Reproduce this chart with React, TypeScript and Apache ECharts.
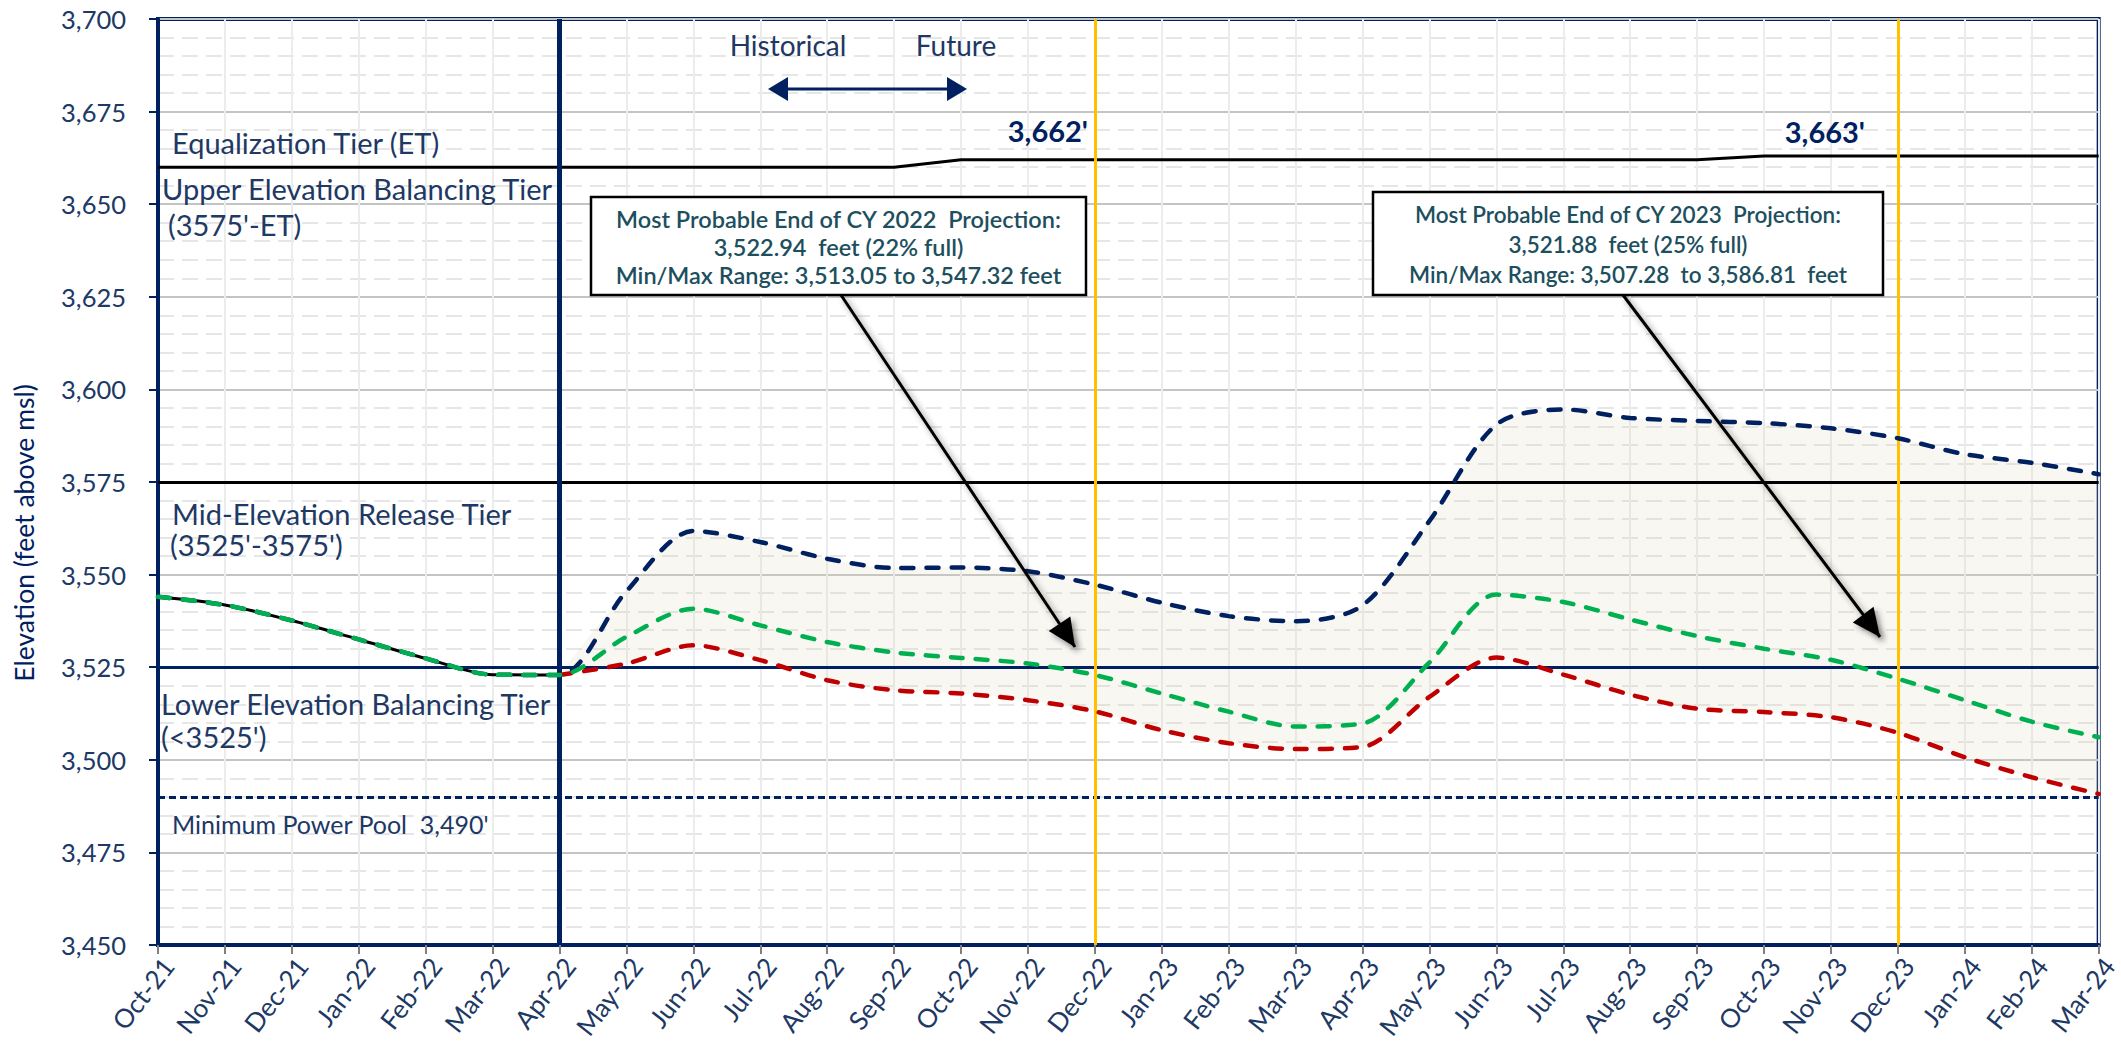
import React, { useEffect, useRef } from "react";
import * as echarts from "echarts";

// ---------- DATA ----------
const months = [
  "Oct-21", "Nov-21", "Dec-21", "Jan-22", "Feb-22", "Mar-22", "Apr-22", "May-22", "Jun-22", "Jul-22",
  "Aug-22", "Sep-22", "Oct-22", "Nov-22", "Dec-22", "Jan-23", "Feb-23", "Mar-23", "Apr-23", "May-23",
  "Jun-23", "Jul-23", "Aug-23", "Sep-23", "Oct-23", "Nov-23", "Dec-23", "Jan-24", "Feb-24", "Mar-24",
];

const historical = [3544.0, 3541.8, 3537.6, 3532.5, 3527.4, 3523.0, 3522.9];

const maxProbable = [
  3544.0, 3541.8, 3537.6, 3532.5, 3527.4, 3523.0, 3522.9, 3545.5, 3561.8, 3558.8,
  3554.3, 3551.8, 3551.9, 3550.9, 3547.3, 3542.4, 3538.8, 3537.4, 3541.7, 3564.5,
  3590.5, 3594.6, 3592.3, 3591.5, 3590.9, 3589.5, 3586.8, 3582.5, 3580.2, 3577.1,
];

const mostProbable = [
  3544.0, 3541.8, 3537.6, 3532.5, 3527.4, 3523.0, 3522.9, 3533.2, 3540.8, 3536.3,
  3531.8, 3529.0, 3527.5, 3526.0, 3522.9, 3517.9, 3513.0, 3509.0, 3509.8, 3526.3,
  3544.6, 3542.6, 3537.9, 3533.4, 3530.0, 3527.0, 3521.9, 3516.1, 3510.3, 3506.1,
];

const minProbable = [
  null, null, null, null, null, null, 3522.9, 3526.0, 3530.9, 3526.9,
  3521.5, 3518.8, 3517.9, 3516.1, 3513.1, 3508.0, 3504.5, 3502.9, 3503.5, 3517.0,
  3527.6, 3523.0, 3517.6, 3513.8, 3512.9, 3511.5, 3507.3, 3500.7, 3495.3, 3490.8,
];

const equalizationTier = [
  3660, 3660, 3660, 3660, 3660, 3660, 3660, 3660, 3660, 3660,
  3660, 3660, 3662, 3662, 3662, 3662, 3662, 3662, 3662, 3662,
  3662, 3662, 3662, 3662, 3663, 3663, 3663, 3663, 3663, 3663,
];

const tierLines = [3575, 3525];
const minPowerPool = 3490;
const currentMonth = "Apr-22";
const yearEndMonths = ["Dec-22", "Dec-23"];

const yMin = 3450;
const yMax = 3700;
const yStep = 25;

const yAxisTitle = "Elevation (feet above msl)";
const etLabels = ["3,662'", "3,663'"];
const tierTexts = [
  "Equalization Tier (ET)",
  "Upper Elevation Balancing Tier",
  "(3575'-ET)",
  "Mid-Elevation Release Tier",
  "(3525'-3575')",
  "Lower Elevation Balancing Tier",
  "(<3525')",
  "Minimum Power Pool  3,490'",
];
const box2022 = [
  "Most Probable End of CY 2022  Projection:",
  "3,522.94  feet (22% full)",
  "Min/Max Range: 3,513.05 to 3,547.32 feet",
];
const box2023 = [
  "Most Probable End of CY 2023  Projection:",
  "3,521.88  feet (25% full)",
  "Min/Max Range: 3,507.28  to 3,586.81  feet",
];

// ---------- STYLE ----------
const NAVY = "#002060";
const TXT = "#203864";
const FONT = "Lato, 'Open Sans', sans-serif";

function arrowHead(fx: number, fy: number, tx: number, ty: number, len: number, half: number) {
  const dx = tx - fx;
  const dy = ty - fy;
  const L = Math.sqrt(dx * dx + dy * dy);
  const ux = dx / L;
  const uy = dy / L;
  const bx = tx - ux * len;
  const by = ty - uy * len;
  return [
    [tx, ty],
    [bx - uy * half, by + ux * half],
    [bx + uy * half, by - ux * half],
  ];
}

function calloutArrow(fx: number, fy: number, tx: number, ty: number) {
  const shadow = { shadowBlur: 6, shadowColor: "rgba(0,0,0,0.45)", shadowOffsetX: 3, shadowOffsetY: 3 };
  return [
    { type: "line", z: 60, shape: { x1: fx, y1: fy, x2: tx, y2: ty }, style: { stroke: "#000", lineWidth: 3, ...shadow } },
    { type: "polygon", z: 61, shape: { points: arrowHead(fx, fy, tx, ty, 28, 13) }, style: { fill: "#000", ...shadow } },
  ];
}

function textBox(x: number, y: number, w: number, h: number, lines: string[], size: number) {
  const els: any[] = [
    { type: "rect", z: 70, shape: { x, y, width: w, height: h }, style: { fill: "#fff", stroke: "#000", lineWidth: 2.5 } },
  ];
  lines.forEach((t, i) => {
    els.push({
      type: "text",
      z: 71,
      style: {
        text: t,
        x: x + w / 2,
        y: y + h * (0.22 + 0.29 * i),
        textAlign: "center",
        textVerticalAlign: "middle",
        fill: "#1d4f5e",
        fontSize: size,
        fontWeight: 600,
        fontFamily: FONT,
      },
    });
  });
  return els;
}

function label(text: string, x: number, y: number, size = 29, extra: any = {}) {
  return {
    type: "text",
    z: 50,
    style: { text, x, y, textAlign: "left", textVerticalAlign: "middle", fill: TXT, fontSize: size, fontFamily: FONT, ...extra },
  };
}

export default function App() {
  const ref = useRef<HTMLDivElement>(null);

  useEffect(() => {
    if (!ref.current) return;
    const chart = echarts.init(ref.current, null, { renderer: "svg" });

    const bandSpan = minProbable.map((v, i) => (v == null ? null : +(maxProbable[i] - v).toFixed(2)));
    const dashed = (color: string) => ({ color, width: 4.5, type: [12, 13] as any, cap: "round" as any });

    const graphic: any[] = [
      {
        type: "text",
        z: 50,
        x: 24,
        y: 533,
        rotation: Math.PI / 2,
        style: {
          text: yAxisTitle,
          textAlign: "center",
          textVerticalAlign: "middle",
          fill: NAVY,
          fontSize: 26.5,
          fontFamily: FONT,
        },
      },
      label(tierTexts[0], 172, 142),
      label(tierTexts[1], 162, 188),
      label(tierTexts[2], 168, 224),
      label(tierTexts[3], 172, 513),
      label(tierTexts[4], 170, 544),
      label(tierTexts[5], 161, 703),
      label(tierTexts[6], 161, 736),
      label(tierTexts[7], 172, 824, 25),
      label("Historical", 788, 45, 28, { textAlign: "center" }),
      label("Future", 956, 45, 28, { textAlign: "center" }),
      { type: "line", z: 50, shape: { x1: 785, y1: 89, x2: 950, y2: 89 }, style: { stroke: NAVY, lineWidth: 3 } },
      { type: "polygon", z: 50, shape: { points: arrowHead(900, 89, 768, 89, 20, 12) }, style: { fill: NAVY } },
      { type: "polygon", z: 50, shape: { points: arrowHead(800, 89, 967, 89, 20, 12) }, style: { fill: NAVY } },
      label(etLabels[0], 1088, 130, 29, { textAlign: "right", fontWeight: "bold", fill: NAVY }),
      label(etLabels[1], 1865, 131, 29, { textAlign: "right", fontWeight: "bold", fill: NAVY }),
      ...calloutArrow(841, 295, 1075, 647),
      ...calloutArrow(1623, 295, 1880, 637),
      ...textBox(591, 197, 495, 98, box2022, 23.5),
      ...textBox(1373, 192, 510, 103, box2023, 22.5),
    ];

    chart.setOption({
      animation: false,
      backgroundColor: "#fff",
      textStyle: { fontFamily: FONT },
      grid: { left: 158, right: 19, top: 19, bottom: 96, show: true, borderColor: NAVY, borderWidth: 4, containLabel: false },
      xAxis: {
        type: "category",
        data: months,
        boundaryGap: false,
        axisLine: { show: true, lineStyle: { color: NAVY, width: 4 } },
        axisTick: { show: true, alignWithLabel: true, length: 9, lineStyle: { color: "#808080", width: 2 } },
        axisLabel: {
          rotate: 52,
          color: TXT,
          fontSize: 26,
          fontFamily: FONT,
          margin: 8,
          interval: 0,
          verticalAlign: "top",
        },
        splitLine: { show: true, interval: 0, lineStyle: { color: "#ececec", width: 2 } },
      },
      yAxis: {
        type: "value",
        min: yMin,
        max: yMax,
        interval: yStep,
        axisLine: { show: true, lineStyle: { color: NAVY, width: 4 } },
        axisTick: { show: true, length: 9, lineStyle: { color: NAVY, width: 2 } },
        axisLabel: {
          color: TXT,
          fontSize: 25.5,
          fontFamily: FONT,
          margin: 32,
          formatter: (v: number) => v.toLocaleString("en-US"),
        },
        splitLine: { show: true, lineStyle: { color: "#c4c4c4", width: 2 } },
        minorTick: { show: false, splitNumber: 5 },
        minorSplitLine: { show: true, lineStyle: { color: "#e6e6e6", width: 2, type: [16, 8] } },
      },
      series: [
        {
          name: "band-base",
          type: "line",
          stack: "band",
          data: minProbable,
          smooth: 0.3,
          symbol: "none",
          lineStyle: { opacity: 0 },
          silent: true,
          z: 1,
        },
        {
          name: "band",
          type: "line",
          stack: "band",
          data: bandSpan,
          smooth: 0.3,
          symbol: "none",
          lineStyle: { opacity: 0 },
          areaStyle: { color: "rgba(215,210,180,0.25)" },
          silent: true,
          z: 1,
        },
        {
          name: "refs",
          type: "line",
          data: [],
          z: 2,
          markLine: {
            silent: true,
            symbol: ["none", "none"],
            label: { show: false },
            data: [
              { yAxis: tierLines[0], lineStyle: { color: "#000", width: 3, type: "solid" } },
              { yAxis: tierLines[1], lineStyle: { color: NAVY, width: 3, type: "solid" } },
              { yAxis: minPowerPool, lineStyle: { color: NAVY, width: 3, type: [7, 4] } },
              ...yearEndMonths.map((m) => ({ xAxis: m, lineStyle: { color: "#ffc000", width: 3, type: "solid" } })),
            ],
          },
        },
        {
          name: "Equalization Tier",
          type: "line",
          data: equalizationTier,
          symbol: "none",
          lineStyle: { color: "#000", width: 3 },
          z: 3,
        },
        {
          name: "Historical",
          type: "line",
          data: historical,
          smooth: 0.3,
          symbol: "none",
          lineStyle: { color: "#000", width: 3 },
          z: 4,
        },
        {
          name: "Min Probable",
          type: "line",
          data: minProbable,
          smooth: 0.3,
          symbol: "none",
          lineStyle: dashed("#c00000"),
          z: 5,
        },
        {
          name: "Max Probable",
          type: "line",
          data: maxProbable,
          smooth: 0.3,
          symbol: "none",
          lineStyle: dashed("#002060"),
          z: 6,
        },
        {
          name: "Most Probable",
          type: "line",
          data: mostProbable,
          smooth: 0.3,
          symbol: "none",
          lineStyle: dashed("#00b050"),
          z: 7,
        },
        {
          name: "current",
          type: "line",
          data: [],
          z: 8,
          markLine: {
            silent: true,
            symbol: ["none", "none"],
            label: { show: false },
            data: [{ xAxis: currentMonth, lineStyle: { color: NAVY, width: 5, type: "solid" } }],
          },
        },
      ],
      graphic,
    });

    return () => chart.dispose();
  }, []);

  return (
    <div
      ref={ref}
      style={{ position: "fixed", left: 0, top: 0, width: 2121, height: 1042, background: "#fff" }}
    />
  );
}
